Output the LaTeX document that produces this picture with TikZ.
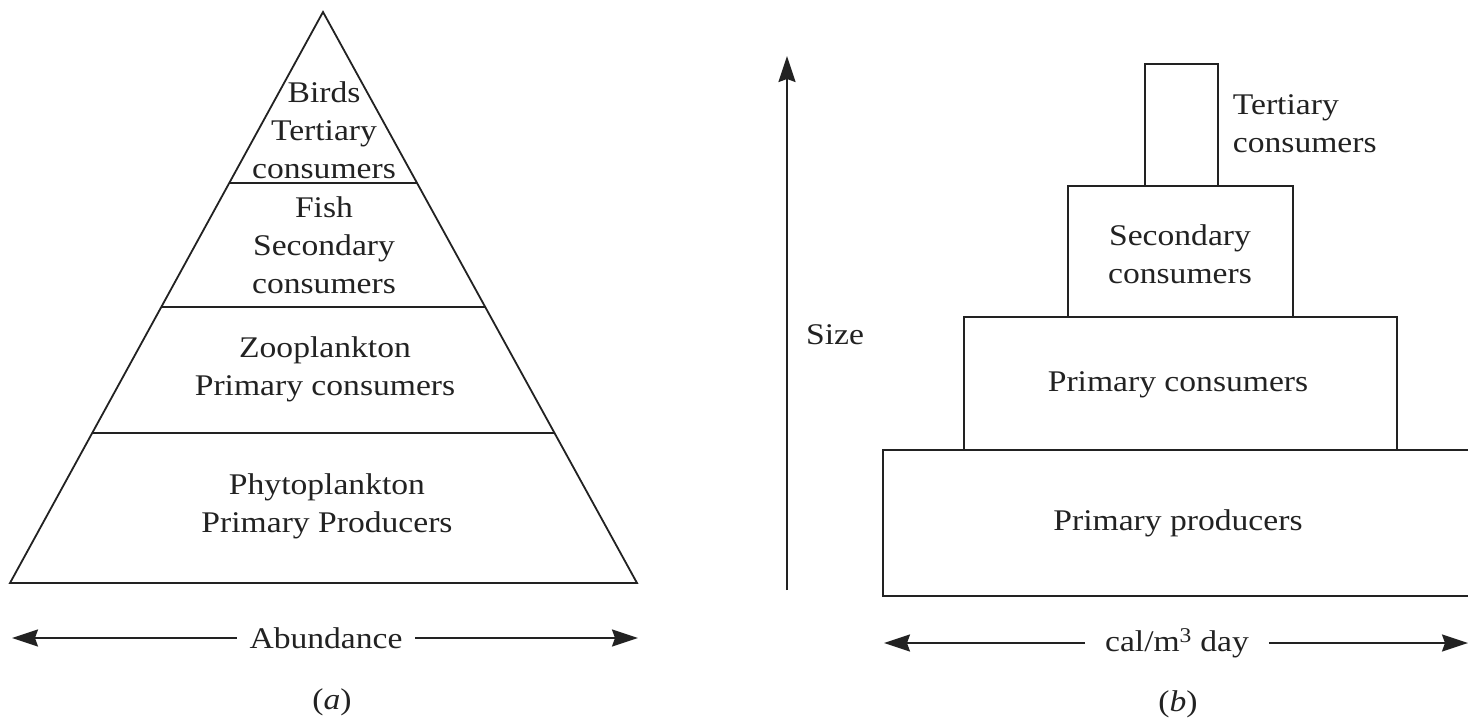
\documentclass[tikz,border=0pt]{standalone}
\usepackage{fontspec}
\setmainfont{Liberation Serif}[FakeStretch=1.12]
\usetikzlibrary{calc,arrows.meta}
\definecolor{ink}{HTML}{222222}
\begin{document}
\begin{tikzpicture}[x=1pt,y=-1pt,
  line width=1.8pt, draw=ink,
  lbl/.style={text=ink, font=\fontsize{30}{38}\selectfont, align=center, inner sep=0pt},
  boxn/.style={draw=ink, line width=1.8pt, rectangle, inner sep=0pt},
  axis/.style={draw=ink, line width=1.8pt, -{Stealth[length=26pt,width=17pt,inset=3pt]}}]
\useasboundingbox[fill=white] (0,0) rectangle (1468,721);
% (a) pyramid
\coordinate (apex) at (323,12);
\coordinate (bl) at (10,583);
\coordinate (br) at (637,583);
\draw[line join=miter] (apex) -- (bl) -- (br) -- cycle;
\draw ($(apex)!0.2995!(bl)$) -- ($(apex)!0.2995!(br)$);
\draw ($(apex)!0.5166!(bl)$) -- ($(apex)!0.5166!(br)$);
\draw ($(apex)!0.7373!(bl)$) -- ($(apex)!0.7373!(br)$);
\node[lbl] (birds) at (324,130) {Birds\\Tertiary\\consumers};
\node[lbl] (fish) at (324,245) {Fish\\Secondary\\consumers};
\node[lbl] (zoo) at (325,369) {Zooplankton\\Primary consumers};
\node[lbl] (phyto) at (327,506) {Phytoplankton\\Primary Producers};
\node[lbl, inner xsep=12pt] (abund) at (326,638) {Abundance};
\coordinate (aL) at (12,638);
\coordinate (aR) at (638,638);
\draw[axis] (abund.west) -- (aL);
\draw[axis] (abund.east) -- (aR);
\node[lbl] (capa) at (332,702) {(\textit{a})};
% (b) blocks
\coordinate (vb) at (787,590);
\coordinate (vt) at (787,56);
\draw[axis] (vb) -- (vt);
\node[lbl] (size) at (835,335) {Size};
\node[boxn, minimum width=597pt, minimum height=146pt] (prod) at (1181.5,523) {};
\node[boxn, minimum width=433pt, minimum height=133pt] (pcons) at (1180.5,383.5) {};
\node[boxn, minimum width=225pt, minimum height=131pt] (scons) at (1180.5,251.5) {};
\node[boxn, minimum width=73pt, minimum height=122pt] (tcons) at (1181.5,125) {};
\node[lbl, align=left, anchor=west] (tlab) at (1232,124) {Tertiary\\consumers};
\node[lbl] (slab) at (1180,254) {Secondary\\consumers};
\node[lbl] (plab) at (1178,385) {Primary consumers};
\node[lbl] (prlab) at (1178,523) {Primary producers};
\node[lbl, inner xsep=19pt] (cal) at (1177,643) {cal/m\textsuperscript{3} day};
\coordinate (cL) at (884,643);
\coordinate (cR) at (1468,643);
\draw[axis] (cal.west) -- (cL);
\draw[axis] (cal.east) -- (cR);
\node[lbl] (capb) at (1178,704) {(\textit{b})};
\end{tikzpicture}
\end{document}
